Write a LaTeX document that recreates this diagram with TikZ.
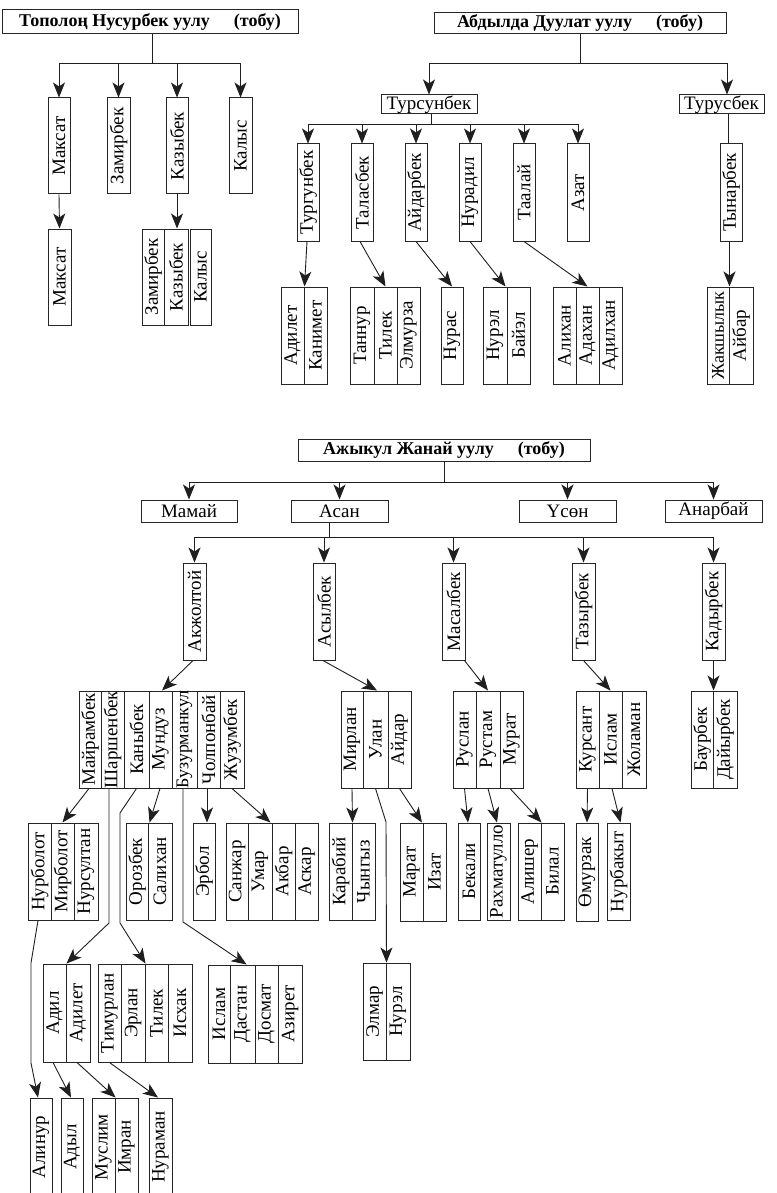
\documentclass[tikz,border=0pt]{standalone}
\usepackage{fontspec}
\setmainfont{Liberation Serif}
\usepackage{graphicx}
\usetikzlibrary{arrows.meta}
\tikzset{
  bx/.style={draw=black!85, line width=1pt, inner sep=0pt, fill=white},
  txt/.style={inner sep=0pt, font=\fontsize{19}{19}\selectfont},
  htxt/.style={inner sep=0pt, font=\fontsize{18}{18}\selectfont\bfseries},
  ln/.style={draw=black!88, line width=0.9pt},
  arr/.style={ln, -{Stealth[length=15pt,width=12pt,inset=4pt]}}
}
\newcommand\nb[6]{%
  \node[bx, minimum width={(#3-#2)*1pt}, minimum height={(#5-#4)*1pt}] (#1) at ({(#2+#3)/2},{-(#4+#5)/2}) {};
  \node[txt] at (#1.center) {\rotatebox{90}{#6}};}
\newcommand\hb[6]{%
  \node[bx, minimum width={(#3-#2)*1pt}, minimum height={(#5-#4)*1pt}] (#1) at ({(#2+#3)/2},{-(#4+#5)/2}) {};
  \node[txt] at (#1.center) {#6};}
\newcommand\tb[6]{%
  \node[bx, minimum width={(#3-#2)*1pt}, minimum height={(#5-#4)*1pt}] (#1) at ({(#2+#3)/2},{-(#4+#5)/2}) {};
  \node[htxt] at (#1.center) {#6};}
\begin{document}
\begin{tikzpicture}[x=1pt,y=1pt]
\useasboundingbox (0,0) rectangle (776,-1193);
\clip (0,0) rectangle (776,-1193);
\fill[white] (0,0) rectangle (776,-1193);

% ---------- Section 1 ----------
\tb{h1}{2}{298}{10}{34}{Тополоң Нусурбек уулу\hspace{24pt}(тобу)}
\nb{maksat}{48}{70}{98}{194}{Максат}
\nb{zamir}{107}{130}{98}{194}{Замирбек}
\nb{kazy}{166}{188}{98}{194}{Казыбек}
\nb{kalys}{229}{252}{98}{194}{Калыс}
\nb{maksatb}{48}{71}{229}{325}{Максат}
\nb{zamirb}{142}{164}{229}{325}{Замирбек}
\nb{kazyb}{164}{188}{229}{325}{Казыбек}
\nb{kalysb}{190}{211}{229}{325}{Калыс}
\coordinate (b1) at (152,-63);
\draw[ln] (h1.south -| b1) -- (b1);
\draw[arr] (b1) -| (maksat.north);
\draw[arr] (b1) -| (zamir.north);
\draw[arr] (b1) -| (kazy.north);
\draw[arr] (b1) -| (kalys.north);
\draw[arr] (maksat.south) -- (maksatb.north);
\draw[arr] (kazy.south) -- (kazy.south |- kazyb.north);

% ---------- Section 2 ----------
\tb{h2}{434}{726}{13}{34}{Абдылда Дуулат уулу\hspace{24pt}(тобу)}
\hb{tursun}{381}{477}{95}{114}{Турсунбек}
\hb{turus}{679}{764}{95}{114}{Турусбек}
\nb{turgun}{297}{319}{144}{241}{Тургунбек}
\nb{talas}{351}{373}{144}{241}{Таласбек}
\nb{aidar}{405}{427}{144}{241}{Айдарбек}
\nb{nuradil}{459}{481}{144}{241}{Нурадил}
\nb{taalai}{513}{535}{144}{241}{Таалай}
\nb{azat}{567}{589}{144}{241}{Азат}
\nb{tynar}{720}{742}{144}{241}{Тынарбек}
\nb{adilet}{281}{304}{287}{384}{Адилет}
\nb{kanimet}{304}{327}{287}{384}{Канимет}
\nb{tannur}{350}{374}{287}{384}{Таннур}
\nb{tilek}{374}{397}{287}{384}{Тилек}
\nb{elmurza}{397}{420}{287}{384}{Элмурза}
\nb{nuras}{441}{463}{287}{384}{Нурас}
\nb{nurel}{483}{507}{287}{384}{Нурэл}
\nb{baiel}{507}{530}{287}{384}{Байэл}
\nb{alihan}{553}{576}{287}{384}{Алихан}
\nb{adahan}{576}{599}{287}{384}{Адахан}
\nb{adilhan}{599}{622}{287}{384}{Адилхан}
\nb{jaksh}{707}{729}{287}{384}{\fontsize{18}{18}\selectfont Жакшылык}
\nb{aibar}{729}{753}{287}{384}{Айбар}
\coordinate (b2) at (580,-63);
\draw[ln] (h2.south) -- (b2);
\draw[arr] (b2) -| (tursun.north);
\draw[arr] (b2) -| ([xshift=5.5pt]turus.north);
\coordinate (b3) at (431,-124);
\draw[ln] (tursun.south -| b3) -- (b3);
\draw[arr] (b3) -| (turgun.north);
\draw[arr] (b3) -| (talas.north);
\draw[arr] (b3) -| (aidar.north);
\draw[arr] (b3) -| (nuradil.north);
\draw[arr] (b3) -| (taalai.north);
\draw[arr] (b3) -| (azat.north);
\draw[ln] ([xshift=6.5pt]turus.south) -- ([xshift=6.5pt]turus.south |- tynar.north);
\draw[arr] ([xshift=-1pt]turgun.south) -- (adilet.north east);
\draw[arr] ([xshift=-2pt]talas.south) -- (tilek.north);
\draw[arr] (aidar.south) -- (nuras.north);
\draw[arr] (nuradil.south) -- ([xshift=-2pt]nurel.north east);
\draw[arr] (taalai.south) -- (adahan.north);
\draw[arr] (jaksh.north east |- tynar.south) -- (jaksh.north east);

% ---------- Section 3 ----------
\tb{h3}{298}{590}{439}{461}{Ажыкул Жанай уулу\hspace{24pt}(тобу)}
\hb{mamai}{141}{237}{500}{522}{Мамай}
\hb{asan}{291}{388}{500}{522}{Асан}
\hb{usun}{519}{616}{500}{522}{Үсөн}
\hb{anar}{665}{762}{500}{522}{Анарбай}
\coordinate (b4) at (444,-482);
\draw[ln] (h3.south) -- (b4);
\draw[arr] (b4) -| (mamai.north);
\draw[arr] (b4) -| (asan.north);
\draw[arr] (b4) -| (usun.north);
\draw[arr] (b4) -| (anar.north);

\nb{akj}{183}{206}{563}{660}{Акжолтой}
\nb{asyl}{313}{335}{563}{660}{Асылбек}
\nb{masal}{442}{465}{563}{660}{Масалбек}
\nb{tazyr}{572}{595}{563}{660}{Тазырбек}
\nb{kadyr}{702}{725}{563}{660}{Кадырбек}
\coordinate (b5) at (329,-537);
\draw[ln] (asan.south -| b5) -- (b5);
\draw[arr] (b5) -| (akj.north);
\draw[arr] (b5) -| (asyl.north);
\draw[arr] (b5) -| (masal.north);
\draw[arr] (b5) -| (tazyr.north);
\draw[arr] (b5) -| (kadyr.north);

% row 2
\nb{maira}{79}{101}{691}{788}{Майрамбек}
\nb{sharsh}{101}{124}{691}{788}{Шаршенбек}
\nb{kany}{124}{149}{691}{788}{Каныбек}
\nb{mund}{149}{172}{691}{788}{Мундуз}
\nb{buz}{172}{197}{691}{788}{\fontsize{18}{18}\selectfont Бузурманкул}
\nb{cholp}{197}{220}{691}{788}{Чолпонбай}
\nb{juz}{220}{244}{691}{788}{Жузумбек}
\nb{mirlan}{341}{363}{691}{788}{Мирлан}
\nb{ulan}{363}{388}{691}{788}{Улан}
\nb{aidarb}{388}{411}{691}{788}{Айдар}
\nb{ruslan}{453}{476}{691}{788}{Руслан}
\nb{rustam}{476}{500}{691}{788}{Рустам}
\nb{murat}{500}{523}{691}{788}{Мурат}
\nb{kursant}{576}{599}{691}{788}{Курсант}
\nb{islam}{599}{622}{691}{788}{Ислам}
\nb{jolaman}{622}{646}{691}{788}{Жоламан}
\nb{baur}{691}{713}{691}{788}{Баурбек}
\nb{daiyr}{713}{737}{691}{788}{Дайырбек}
\draw[arr] ([xshift=-1.5pt]akj.south) -- ([xshift=1.5pt]mund.north);
\draw[arr] ([xshift=-1pt]asyl.south) -- ([xshift=1.5pt]ulan.north);
\draw[arr] (masal.south -| ruslan.center) -- (rustam.north);
\draw[arr] (tazyr.south) -- (islam.north);
\draw[arr] (kadyr.south) -- (baur.north east);

% row 3
\nb{nurbolot}{28}{51}{823}{920}{Нурболот}
\nb{mirbolot}{51}{74}{823}{920}{Мирболот}
\nb{nursultan}{74}{98}{823}{920}{Нурсултан}
\nb{orozbek}{126}{148}{823}{920}{Орозбек}
\nb{salihan}{148}{172}{823}{920}{Салихан}
\nb{erbol}{193}{215}{823}{920}{Эрбол}
\nb{sanjar}{226}{248}{823}{920}{Санжар}
\nb{umar}{248}{272}{823}{920}{Умар}
\nb{akbar}{272}{295}{823}{920}{Акбар}
\nb{askar}{295}{318}{823}{920}{Аскар}
\nb{karabii}{329}{352}{823}{920}{Карабий}
\nb{chyngyz}{352}{375}{823}{920}{Чынгыз}
\nb{marat}{400}{423}{823}{921}{Марат}
\nb{izat}{423}{446}{823}{921}{Изат}
\nb{bekali}{458}{480}{823}{920}{Бекали}
\nb{rahmat}{487}{510}{823}{920}{Рахматулло}
\nb{alisher}{518}{541}{823}{920}{Алишер}
\nb{bilal}{541}{564}{823}{920}{Билал}
\nb{omurzak}{576}{598}{823}{921}{Өмурзак}
\nb{nurbakyt}{607}{630}{823}{920}{Нурбакыт}
\draw[arr] ([xshift=-1pt]maira.south) -- (mirbolot.north);
\draw[arr] ([xshift=-0.5pt]mund.south) -- ([xshift=2pt]salihan.north west);
\draw[arr] ([xshift=-1.5pt]cholp.south) -- ([xshift=-1.5pt]cholp.south |- erbol.north);
\draw[arr] (juz.south) -- ([xshift=-2pt]umar.north east);
\draw[arr] (mirlan.south) -- (karabii.north east);
\draw[arr] (aidarb.south) -- ([xshift=-1.5pt]marat.north east);
\draw[arr] (ruslan.south) -- ([xshift=-1pt]bekali.north);
\draw[arr] (rustam.south) -- ([xshift=-1.5pt]rahmat.north);
\draw[arr] ([xshift=-1.5pt]murat.south) -- (alisher.north east);
\draw[arr] (kursant.south) -- (omurzak.north);
\draw[arr] ([xshift=1.5pt]islam.south) -- ([xshift=2pt]nurbakyt.north);

% row 4
\nb{adil}{43}{66}{964}{1062}{Адил}
\nb{adiletb}{66}{90}{964}{1062}{Адилет}
\nb{timur}{98}{121}{964}{1062}{Тимурлан}
\nb{erlan}{121}{145}{964}{1062}{Эрлан}
\nb{tilekb}{145}{168}{964}{1062}{Тилек}
\nb{ishak}{168}{192}{964}{1062}{Исхак}
\nb{islamb}{208}{230}{965}{1063}{Ислам}
\nb{dastan}{230}{255}{965}{1063}{Дастан}
\nb{dosmat}{255}{278}{965}{1063}{Досмат}
\nb{aziret}{278}{302}{965}{1063}{Азирет}
\nb{elmar}{363}{386}{963}{1060}{Элмар}
\nb{nurelb}{386}{410}{963}{1060}{Нурэл}

\coordinate (s1) at (109,-923);
\draw[arr] (sharsh.south -| s1) -- (s1) -- (adil.north east);
\coordinate (k1) at (120,-813);
\coordinate (k2) at (120,-923);
\draw[arr] (kany.south) -- (k1) -- (k2) -- (erlan.north east);
\coordinate (z1) at (183,-922);
\draw[arr] (buz.south -| z1) -- (z1) -- ([xshift=4pt]dastan.north);
\coordinate (u1) at (386,-822);
\draw[arr] (ulan.south) -- (u1) -- (elmar.north east);

% row 5
\nb{alinur}{30}{52}{1098}{1196}{Алинур}
\nb{adyl}{61}{83}{1098}{1196}{Адыл}
\nb{muslim}{92}{115}{1098}{1196}{Муслим}
\nb{imran}{115}{138}{1098}{1196}{Имран}
\nb{nuraman}{149}{172}{1098}{1196}{Нураман}
\coordinate (n1) at (31,-963);
\coordinate (n2) at (31,-1063);
\draw[arr] ([xshift=-1.5pt]nurbolot.south) -- (n1) -- (n2) -- ([xshift=-3pt]alinur.north);
\draw[arr] ([xshift=-1.5pt]adil.south) -- ([xshift=-1pt]adyl.north);
\draw[arr] ([xshift=-1pt]adiletb.south) -- (muslim.north east);
\draw[arr] (timur.south) -- ([xshift=-2.5pt]nuraman.north);
\end{tikzpicture}
\end{document}
